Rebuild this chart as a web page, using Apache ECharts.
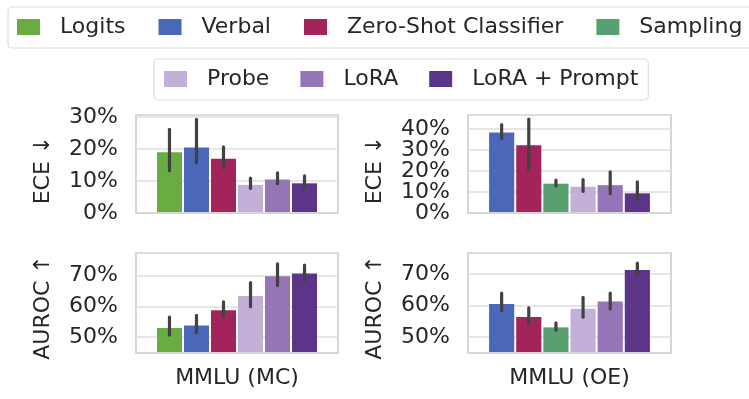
<!DOCTYPE html>
<html>
<head>
<meta charset="utf-8">
<script src="https://cdn.jsdelivr.net/npm/echarts@6/dist/echarts.min.js"></script>
<style>
html,body{margin:0;padding:0;background:#fff;}
#chart{width:749px;height:399px;}
</style>
</head>
<body>
<div id="chart"></div>
<script>
// ---- data ----
const datasets = ['MMLU (MC)', 'MMLU (OE)'];
const methodsMC = ['Logits', 'Verbal', 'Zero-Shot Classifier', 'Probe', 'LoRA', 'LoRA + Prompt'];
const methodsOE = ['Verbal', 'Zero-Shot Classifier', 'Sampling', 'Probe', 'LoRA', 'LoRA + Prompt'];

const eceMC     = [19.0, 20.5, 17.0, 8.8, 10.5, 9.3];
const eceMCLow  = [13.2, 15.7, 14.2, 7.7, 9.2, 7.7];
const eceMCHigh = [26.2, 29.3, 20.7, 10.9, 12.6, 11.6];

const eceOE     = [38.4, 32.4, 14.0, 12.5, 13.3, 9.4];
const eceOELow  = [35.6, 20.8, 12.9, 10.3, 9.2, 6.5];
const eceOEHigh = [42.2, 44.8, 15.7, 16.0, 19.7, 14.9];

const aurocMC     = [53.0, 53.8, 58.8, 63.4, 69.8, 70.7];
const aurocMCLow  = [50.7, 51.5, 56.7, 59.9, 66.8, 68.5];
const aurocMCHigh = [56.5, 57.1, 61.5, 67.8, 73.9, 73.5];

const aurocOE     = [60.5, 56.4, 53.1, 59.0, 61.3, 71.2];
const aurocOELow  = [58.4, 54.3, 52.2, 56.3, 58.9, 70.0];
const aurocOEHigh = [63.9, 59.3, 54.5, 62.6, 63.9, 73.4];

const legendRow1 = ['Logits', 'Verbal', 'Zero-Shot Classifier', 'Sampling'];
const legendRow2 = ['Probe', 'LoRA', 'LoRA + Prompt'];
const metricNames = ['ECE \u2193', 'AUROC \u2191'];

// ---- style ----
const colors = {
  'Logits': '#69ad42',
  'Verbal': '#4a67ba',
  'Zero-Shot Classifier': '#a2245b',
  'Sampling': '#58a06f',
  'Probe': '#c2b0d9',
  'LoRA': '#9574b8',
  'LoRA + Prompt': '#5d3588'
};
const FONT = 'DejaVu Sans';
const TXT = '#262626';
const FRAME = '#d6d6d6';
const GRIDC = '#dedede';
const BAR_FRAC = 0.1238, GAP_FRAC = 0.08;

const panels = [
  {grid:{left:136, top:115, width:202, height:98}, ds:0, metric:0, methods:methodsMC, v:eceMC, lo:eceMCLow, hi:eceMCHigh, min:0, max:30.7},
  {grid:{left:468, top:115, width:203, height:98}, ds:1, metric:0, methods:methodsOE, v:eceOE, lo:eceOELow, hi:eceOEHigh, min:0, max:46.8},
  {grid:{left:136, top:253, width:202, height:100}, ds:0, metric:1, methods:methodsMC, v:aurocMC, lo:aurocMCLow, hi:aurocMCHigh, min:44.85, max:77.4},
  {grid:{left:468, top:253, width:203, height:100}, ds:1, metric:1, methods:methodsOE, v:aurocOE, lo:aurocOELow, hi:aurocOEHigh, min:45.0, max:76.6}
];

const labelStyle = {fontFamily:FONT, fontSize:22, color:TXT, margin:18};
const pct = v => (Math.abs(v/10 - Math.round(v/10)) < 1e-6 ? Math.round(v) + '%' : '');

const grids = [], xAxes = [], yAxes = [], extraY = [], series = [];
panels.forEach((p, k) => {
  grids.push(Object.assign({show:true, borderColor:FRAME, borderWidth:2, backgroundColor:'#fff'}, p.grid));
  const bottom = p.metric === 1;
  xAxes.push({
    type:'category', gridIndex:k, data:[datasets[p.ds]],
    axisLabel:{show:false}, axisTick:{show:false}, splitLine:{show:false},
    axisLine:{show:true, lineStyle:{color:FRAME, width:2}},
    name: bottom ? datasets[p.ds] : '', nameLocation:'middle', nameGap:14,
    nameTextStyle:{fontFamily:FONT, fontSize:22, color:TXT},
    z:5
  });
  const yax = {
    type:'value', gridIndex:k, position:'left', min:p.min, max:p.max,
    axisLine:{show:false}, axisTick:{show:false},
    splitLine:{show:true, lineStyle:{color:GRIDC, width:1.5}},
    axisLabel:Object.assign({}, labelStyle, {formatter:pct, showMinLabel: p.min === 0 ? false : undefined}),
    name: metricNames[p.metric], nameLocation:'middle', nameRotate:90, nameGap:82,
    nameTextStyle:{fontFamily:FONT, fontSize:22, color:TXT, padding: p.metric === 0 ? [0,12,0,0] : [0,9,0,0]}
  };
  if (p.min === 0) {
    yax.interval = 10;
    // companion axis that only carries the 0% label (avoids overlap-hiding of tightly packed labels)
    extraY.push({
      type:'value', gridIndex:k, position:'left', min:p.min, max:p.max, interval:10,
      axisLine:{show:false}, axisTick:{show:false}, splitLine:{show:false},
      axisLabel:Object.assign({}, labelStyle, {showMinLabel:true, showMaxLabel:false,
        formatter: v => (Math.abs(v) < 1e-9 ? '0%' : '')})
    });
  } else { yax.minInterval = 10; yax.maxInterval = 10; }
  yAxes.push(yax);
  p.methods.forEach((m, i) => {
    series.push({
      type:'bar', name:m, xAxisIndex:k, yAxisIndex:k,
      data:[p.v[i]], barWidth:(BAR_FRAC*100)+'%', barGap:(GAP_FRAC*100)+'%',
      itemStyle:{color:colors[m]}, clip:true, z:2
    });
  });
  const n = p.methods.length;
  series.push({
    type:'custom', name:'err'+k, xAxisIndex:k, yAxisIndex:k, z:4,
    data: p.methods.map((m, i) => [0, p.lo[i], p.hi[i], i]),
    encode:{x:0, y:[1,2]},
    renderItem: (params, api) => {
      const i = api.value(3);
      const bandW = api.size([1, 0])[0];
      const pitch = bandW * BAR_FRAC * (1 + GAP_FRAC);
      const off = (i - (n - 1) / 2) * pitch;
      const a = api.coord([0, api.value(1)]);
      const b = api.coord([0, api.value(2)]);
      return {type:'line', shape:{x1:a[0]+off, y1:a[1], x2:b[0]+off, y2:b[1]},
        style:{stroke:'#424242', lineWidth:3.2, lineCap:'round'}};
    }
  });
});

const legendCommon = {
  orient:'horizontal', icon:'rect', itemWidth:23, itemHeight:16,
  backgroundColor:'#fff', borderColor:'#dcdcdc', borderWidth:1.2, borderRadius:4,
  selectedMode:false,
  textStyle:{fontFamily:FONT, fontSize:22, color:TXT, padding:[0,0,0,15]}
};
const legends = [
  Object.assign({}, legendCommon, {data:legendRow1, left:8, top:7, width:1200, itemGap:33, padding:[9,24,10,9]}),
  Object.assign({}, legendCommon, {data:legendRow2, left:154, top:59, width:1200, itemGap:31, padding:[9,10,10,10]})
];

const chart = echarts.init(document.getElementById('chart'), null, {renderer:'canvas'});
chart.setOption({
  animation:false,
  backgroundColor:'#fff',
  legend:legends,
  grid:grids, xAxis:xAxes, yAxis:yAxes.concat(extraY), series:series
});
</script>
</body>
</html>
